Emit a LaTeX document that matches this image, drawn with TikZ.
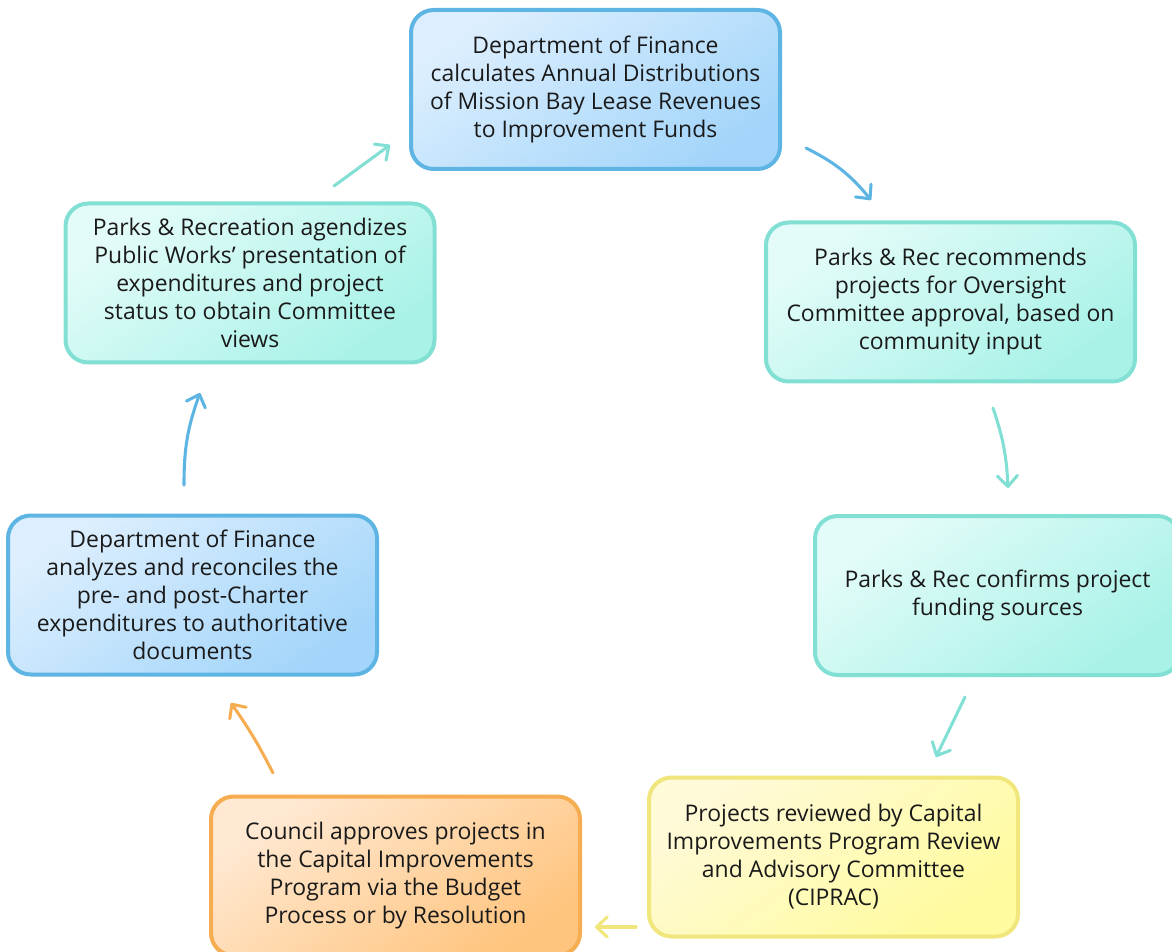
\documentclass[tikz,border=0pt]{standalone}
\usepackage{fontspec}
\setmainfont{Open Sans}
\usetikzlibrary{arrows.meta}
\definecolor{bluestroke}{HTML}{5EB5E4}
\definecolor{bluelight}{HTML}{DDEFFE}
\definecolor{bluedark}{HTML}{A3D5FA}
\definecolor{tealstroke}{HTML}{82DFD3}
\definecolor{teallight}{HTML}{E4FCF9}
\definecolor{tealdark}{HTML}{A8F2E7}
\definecolor{yelstroke}{HTML}{F0E67C}
\definecolor{yellight}{HTML}{FFFAD8}
\definecolor{yeldark}{HTML}{FFFB9E}
\definecolor{orastroke}{HTML}{F6AD52}
\definecolor{oralight}{HTML}{FFE9D3}
\definecolor{oradark}{HTML}{FFC47E}
\definecolor{txt}{HTML}{1A1A1A}
\tikzset{
  box/.style={rounded corners=17pt, line width=3pt, align=center, text=txt,
    font=\fontsize{17.2}{21}\selectfont, inner sep=0pt,
    minimum width=276.75pt, minimum height=119.25pt},
  bluebox/.style={box, draw=bluestroke, top color=bluelight, bottom color=bluedark, shading angle=35},
  tealbox/.style={box, draw=tealstroke, top color=teallight, bottom color=tealdark, shading angle=35},
  yelbox/.style={box, draw=yelstroke, top color=yellight, bottom color=yeldark, shading angle=35},
  orabox/.style={box, draw=orastroke, top color=oralight, bottom color=oradark, shading angle=35},
  arr/.style={line width=2.3pt, line cap=round, -{Straight Barb[length=8pt,width=15pt,line cap=round,line join=round]}},
}
\begin{document}
\begin{tikzpicture}[x=0.75pt, y=-0.75pt]
\useasboundingbox (0,0) rectangle (1172,952);
\node[bluebox] (n1) at (595.5,89.5) {Department of Finance\\calculates Annual Distributions\\of Mission Bay Lease Revenues\\to Improvement Funds};
\node[tealbox] (n2) at (950.5,302) {Parks \& Rec recommends\\projects for Oversight\\Committee approval, based on\\community input};
\node[tealbox, minimum width=273.75pt] (n3) at (997.5,595.5) {Parks \& Rec confirms project\\funding sources};
\node[yelbox] (n4) at (833.5,857) {Projects reviewed by Capital\\Improvements Program Review\\and Advisory Committee\\(CIPRAC)};
\node[orabox] (n5) at (395.5,876) {Council approves projects in\\the Capital Improvements\\Program via the Budget\\Process or by Resolution};
\node[bluebox] (n6) at (192.5,595) {Department of Finance\\analyzes and reconciles the\\pre- and post-Charter\\expenditures to authoritative\\documents};
\node[tealbox] (n7) at (250,283) {Parks \& Recreation agendizes\\Public Works' presentation of\\expenditures and project\\status to obtain Committee\\views};
\coordinate (a1s) at (334,186); \coordinate (a1e) at (390,145);
\coordinate (a2s) at (806,148); \coordinate (a2e) at (871,200);
\coordinate (a3s) at (993,408); \coordinate (a3e) at (1008,488);
\coordinate (a4s) at (965,697); \coordinate (a4e) at (936,757);
\coordinate (a5s) at (636,927); \coordinate (a5e) at (595,927);
\coordinate (a6s) at (273,773); \coordinate (a6e) at (231,703);
\coordinate (a7s) at (184,485); \coordinate (a7e) at (200,393);
\draw[arr, draw=tealstroke] (a1s) -- (a1e);
\draw[arr, draw=bluestroke] (a2s) to[bend left=12] (a2e);
\draw[arr, draw=tealstroke] (a3s) to[bend left=8] (a3e);
\draw[arr, draw=tealstroke] (a4s) -- (a4e);
\draw[arr, draw=yelstroke] (a5s) -- (a5e);
\draw[arr, draw=orastroke] (a6s) to[bend right=4] (a6e);
\draw[arr, draw=bluestroke] (a7s) to[bend left=10] (a7e);
\end{tikzpicture}
\end{document}
